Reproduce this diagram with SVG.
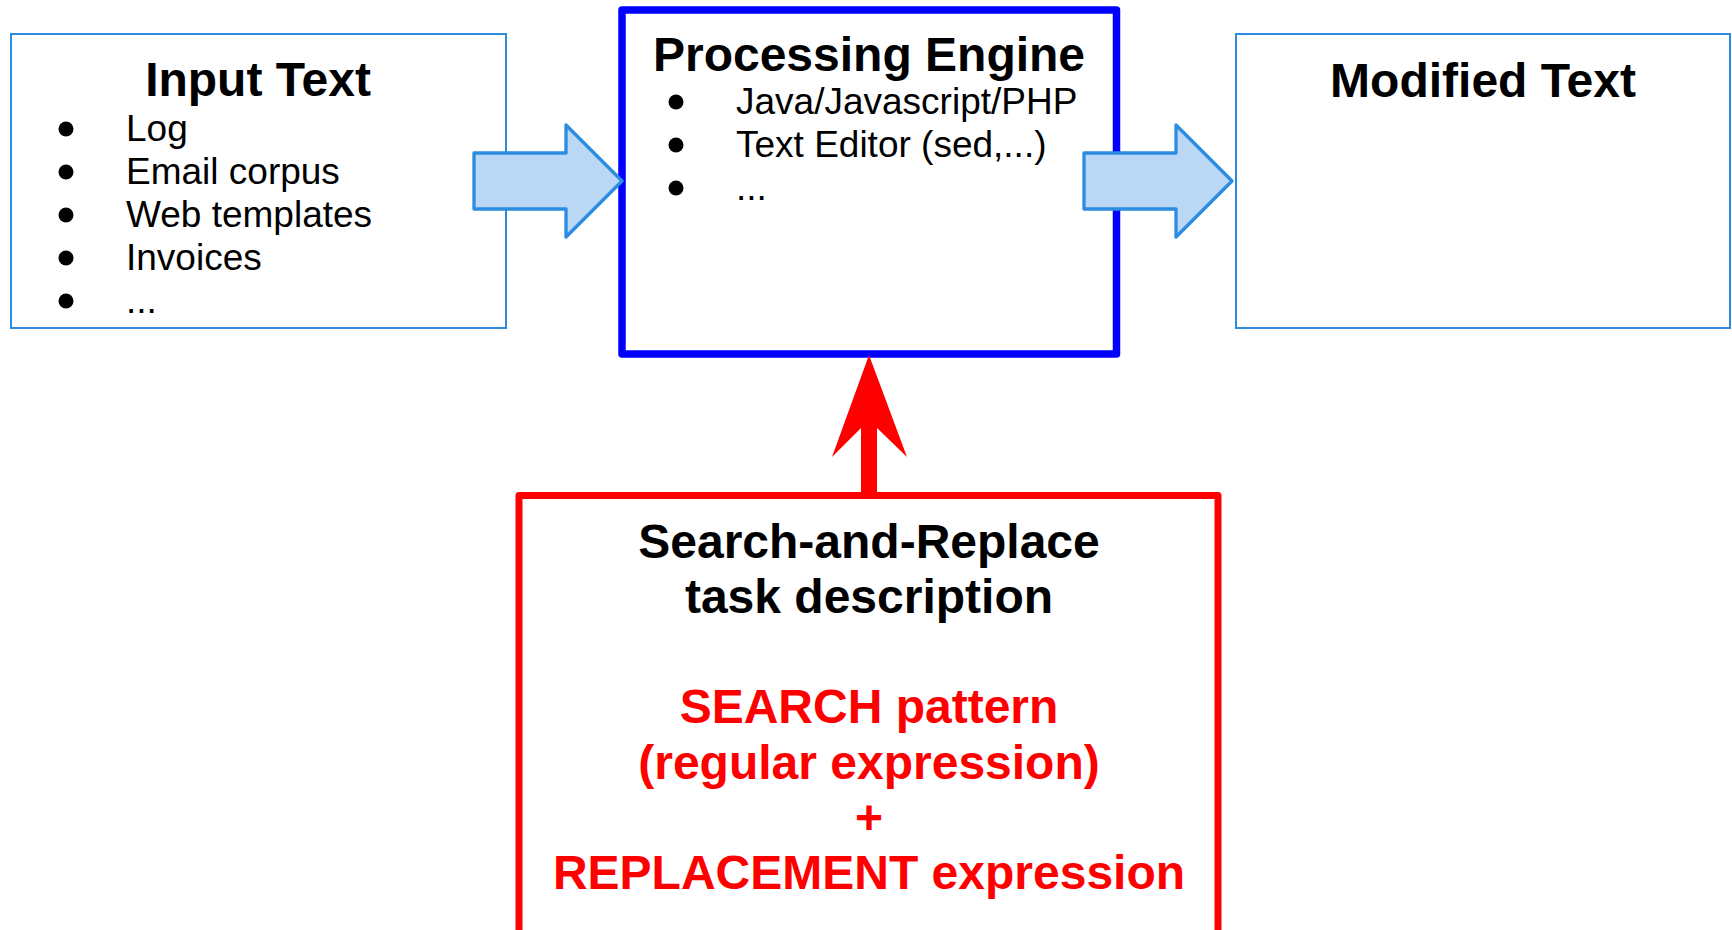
<svg xmlns="http://www.w3.org/2000/svg" width="1732" height="930" viewBox="0 0 1732 930">
<style>
.box{fill:#fff;stroke:#2b8ce0;stroke-width:2}
.t{font-family:"Liberation Sans",Arial,sans-serif;font-weight:bold;font-size:48px;text-anchor:middle;fill:#000}
.i{font-family:"Liberation Sans",Arial,sans-serif;font-size:37px;fill:#000}
.r{fill:#ff0000}
.bar{fill:#bad8f6;stroke:#2b8ce0;stroke-width:3.3;stroke-linejoin:round}
</style>
<rect width="1732" height="930" fill="#fff"/>
<g id="input-text">
<rect class="box" x="11" y="34" width="495" height="294"/>
<text class="t" x="258" y="96">Input Text</text>
<circle cx="66" cy="129" r="7.5"/><text class="i" x="126" y="141">Log</text>
<circle cx="66" cy="172" r="7.5"/><text class="i" x="126" y="184">Email corpus</text>
<circle cx="66" cy="215" r="7.5"/><text class="i" x="126" y="227">Web templates</text>
<circle cx="66" cy="258" r="7.5"/><text class="i" x="126" y="270">Invoices</text>
<circle cx="66" cy="301" r="7.5"/><text class="i" x="126" y="313">...</text>
</g>
<g id="processing-engine">
<rect x="622" y="10" width="494.5" height="344" fill="#fff" stroke="#0000ff" stroke-width="7.5" stroke-linejoin="round"/>
<text class="t" x="869" y="71">Processing Engine</text>
<circle cx="676" cy="102" r="7.5"/><text class="i" x="736" y="114">Java/Javascript/PHP</text>
<circle cx="676" cy="145" r="7.5"/><text class="i" x="736" y="157">Text Editor (sed,...)</text>
<circle cx="676" cy="188" r="7.5"/><text class="i" x="736" y="200">...</text>
</g>
<g id="modified-text">
<rect class="box" x="1236" y="34" width="494" height="294"/>
<text class="t" x="1483" y="97">Modified Text</text>
</g>
<g id="search-replace">
<rect x="519" y="495.5" width="699" height="460" fill="#fff" stroke="#ff0000" stroke-width="7" stroke-linejoin="round"/>
<text class="t" x="869" y="558">Search-and-Replace</text>
<text class="t" x="869" y="613">task description</text>
<text class="t r" x="869" y="723">SEARCH pattern</text>
<text class="t r" x="869" y="779">(regular expression)</text>
<text class="t r" x="869" y="834">+</text>
<text class="t r" x="869" y="889">REPLACEMENT expression</text>
</g>
<g id="connectors">
<path class="bar" d="M474,153 H566 V125 L622,181 L566,237 V209 H474 Z"/>
<path class="bar" d="M1084,153 H1176 V125 L1232,181 L1176,237 V209 H1084 Z"/>
<path class="r" d="M861,496 V428 L832,457 L869,355 L907,457 L877,428 V496 Z"/>
</g>
</svg>
